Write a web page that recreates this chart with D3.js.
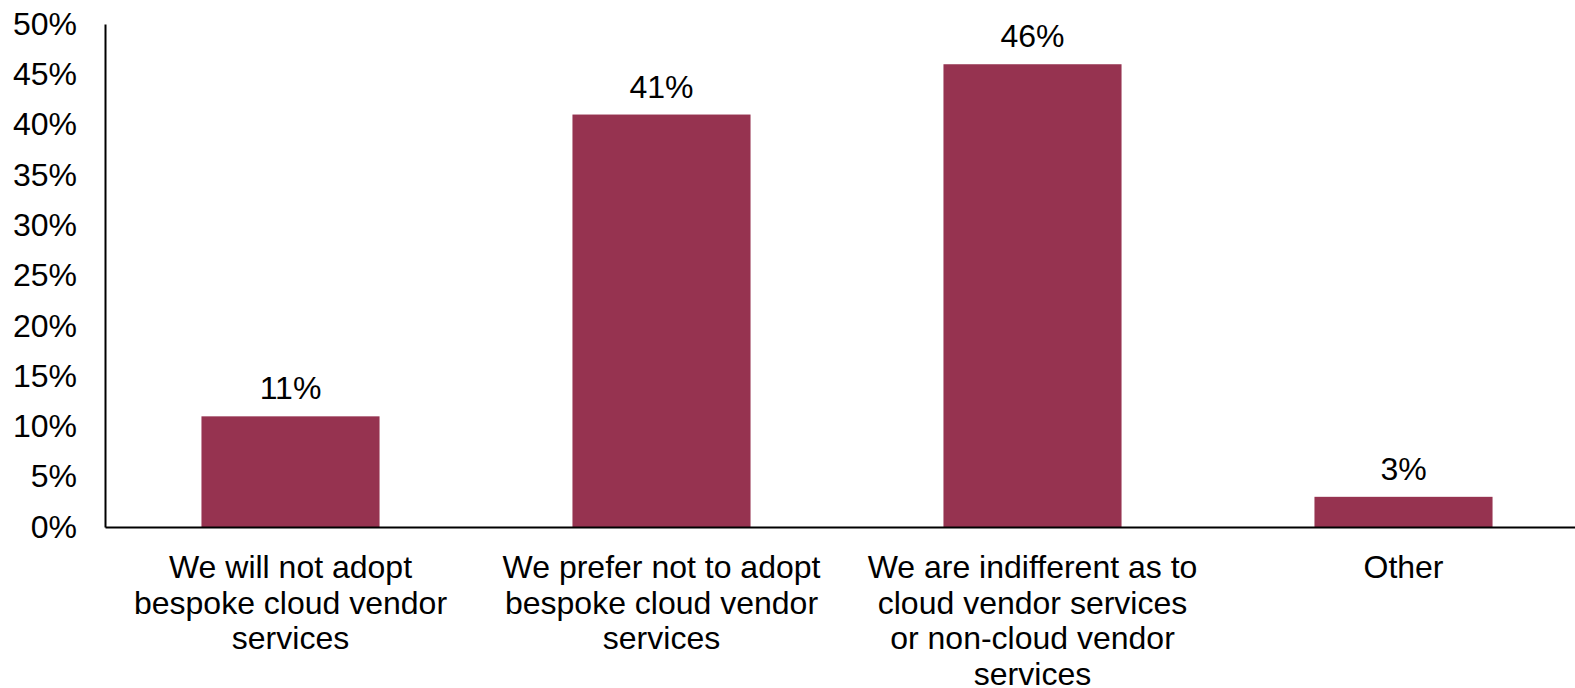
<!DOCTYPE html>
<html><head><meta charset="utf-8">
<script src="https://cdn.jsdelivr.net/npm/d3@7"></script>
<style>body{margin:0;background:#fff}svg{display:block}text{font-family:"Liberation Sans",Arial,sans-serif;fill:#000}</style>
</head><body><svg id="c" width="1575" height="688"></svg>
<script>
const categories = [
  ["We will not adopt","bespoke cloud vendor","services"],
  ["We prefer not to adopt","bespoke cloud vendor","services"],
  ["We are indifferent as to","cloud vendor services","or non-cloud vendor","services"],
  ["Other"]
];
const values = [0.11, 0.41, 0.46, 0.03];
const yTicks = [0,0.05,0.10,0.15,0.20,0.25,0.30,0.35,0.40,0.45,0.50];

const svg = d3.select("#c");
const x = d3.scaleBand().domain(d3.range(values.length)).range([105, 1589]).paddingInner(0.52).paddingOuter(0.26);
const y = d3.scaleLinear().domain([0,0.5]).range([527, 24]);
const fs = 32;

// bars
svg.selectAll("rect.bar").data(values).join("rect")
  .attr("x",(d,i)=>x(i)).attr("width",x.bandwidth())
  .attr("y",d=>y(d)).attr("height",d=>y(0)-y(d)).attr("fill","#963350");

// y axis
const ya = svg.append("g").attr("transform","translate(105,0)")
  .call(d3.axisLeft(y).tickValues(yTicks).tickFormat(d3.format(".0%")).tickSize(0).tickPadding(28));
ya.select(".domain").attr("stroke","#000").attr("stroke-width",2);
ya.selectAll("text").attr("font-size",fs).attr("font-family","Liberation Sans, Arial, sans-serif").attr("fill","#000");

// x axis
const xa = svg.append("g").attr("transform","translate(0,527)")
  .call(d3.axisBottom(x).tickSize(0).tickFormat(""));
xa.select(".domain").attr("stroke","#000").attr("stroke-width",2);

// category labels
categories.forEach((lines,i)=>{
  const t = svg.append("text").attr("text-anchor","middle").attr("font-size",fs)
    .attr("x",x(i)+x.bandwidth()/2).attr("y",578);
  lines.forEach((ln,j)=>t.append("tspan").attr("x",x(i)+x.bandwidth()/2).attr("dy",j?35.5:0).text(ln));
});

// value labels
svg.selectAll("text.val").data(values).join("text").attr("class","val")
  .attr("text-anchor","middle").attr("font-size",fs)
  .attr("x",(d,i)=>x(i)+x.bandwidth()/2).attr("y",d=>y(d)-17)
  .text(d=>d3.format(".0%")(d));
</script></body></html>
